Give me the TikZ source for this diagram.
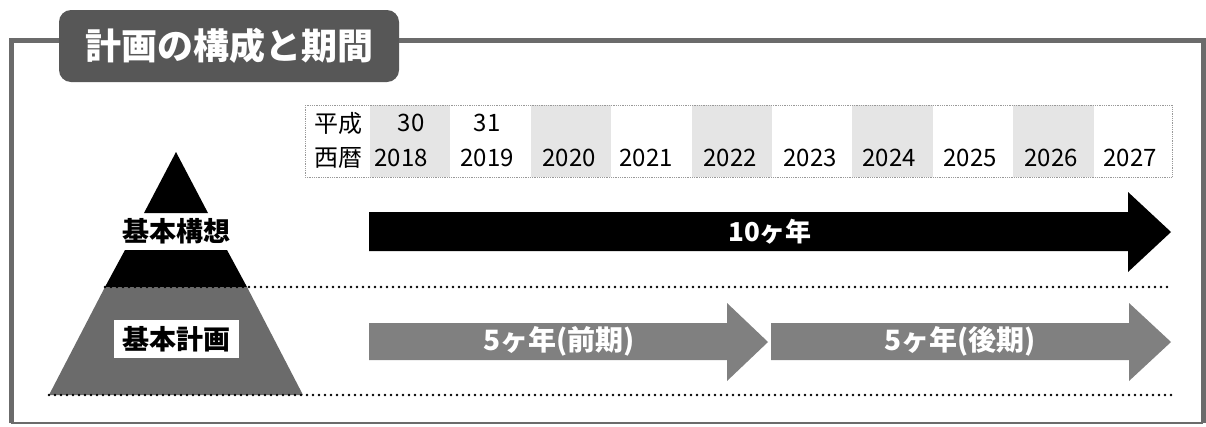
\documentclass[tikz,border=0pt]{standalone}
\usepackage{fontspec}
\setmainfont{Noto Sans CJK JP}
\definecolor{titlegray}{gray}{0.34}
\definecolor{framegray}{gray}{0.42}
\definecolor{pyrgray}{gray}{0.42}
\definecolor{arrowgray}{gray}{0.50}
\definecolor{cellgray}{gray}{0.90}
\begin{document}
\begin{tikzpicture}[x=1pt,y=-1pt,
  tabtext/.style={font=\fontsize{24}{26}\selectfont, inner sep=0pt},
  pyrlabel/.style={font=\bfseries\fontsize{27}{29}\selectfont, inner sep=0pt},
  arrowlabel/.style={font=\bfseries\fontsize{28}{30}\selectfont, text=white, inner sep=0pt},
  dotline/.style={line width=2.8pt, dash pattern=on 0pt off 6pt, line cap=round, black}]
\useasboundingbox (0,0) rectangle (1206,426);
\fill[white] (0,0) rectangle (1206,426);
% frame
\draw[framegray, line width=5pt] (11,423) -- (11,40) -- (1203,40) -- (1203,423);
\draw[framegray, line width=1.5pt] (11,423) -- (1203,423);
% title
\node[fill=titlegray, rounded corners=12pt, minimum width=340pt, minimum height=72pt, inner sep=0pt,
      text=white, font=\bfseries\fontsize{36}{38}\selectfont] (title) at (229,46) {計画の構成と期間};
% year table
\foreach \i in {0,2,4,6,8}
  \fill[cellgray] ({370+80.4*\i},105) rectangle ({370+80.4*(\i+1)},177);
\draw[black!40, densely dotted, line width=0.8pt] (305,105) rectangle (1172,177);
\node[tabtext] (heisei) at (338,123) {平成};
\node[tabtext] (seireki) at (338,158) {西暦};
\node[tabtext] (h30) at (411,123) {30};
\node[tabtext] (h31) at (487,123) {31};
\foreach \x/\y in {401/2018,487/2019,569/2020,646/2021,730/2022,810/2023,889/2024,970/2025,1051/2026,1130/2027}
  \node[tabtext] (y\y) at (\x,158) {\y};
% pyramid
\fill[black] (176,152) -- (208,213) -- (144,213) -- cycle;
\fill[black] (125,250) -- (227,250) -- (247,287) -- (105,287) -- cycle;
\fill[pyrgray] (105,287) -- (247,287) -- (303,395) -- (49,395) -- cycle;
\node[pyrlabel] (kousou) at (176,231) {基本構想};
\node[pyrlabel, fill=white, minimum width=125pt, minimum height=38pt] (keikaku) at (176,339) {基本計画};
% arrows
\fill[black] (369,212) -- (1128,212) -- (1128,192) -- (1171,232) -- (1128,272) -- (1128,251) -- (369,251) -- cycle;
\node[arrowlabel, font=\bfseries\fontsize{26}{28}\selectfont] (ten) at (770,232) {10ヶ年};
\fill[arrowgray] (369,323) -- (727,323) -- (727,303) -- (768,342) -- (727,381) -- (727,360) -- (369,360) -- cycle;
\node[arrowlabel] (zenki) at (559,341) {5ヶ年(前期)};
\fill[arrowgray] (771,323) -- (1129,323) -- (1129,303) -- (1171,342) -- (1129,381) -- (1129,360) -- (771,360) -- cycle;
\node[arrowlabel] (kouki) at (960,341) {5ヶ年(後期)};
% dotted lines
\draw[dotline] (105,287) -- (1172,287);
\draw[dotline] (49,395) -- (1172,395);
\end{tikzpicture}
\end{document}
